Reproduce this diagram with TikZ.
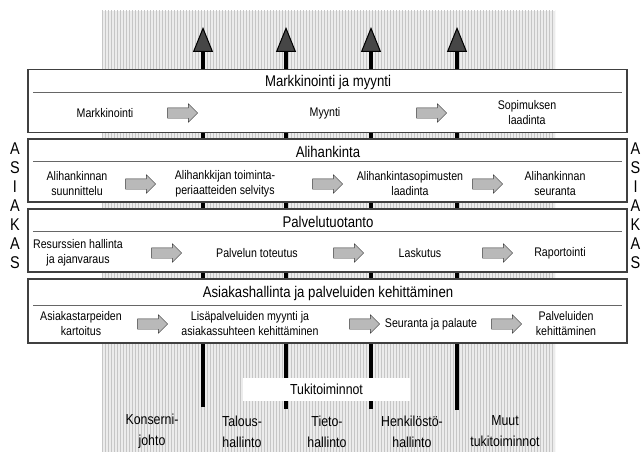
\documentclass[tikz,border=0pt]{standalone}
\usepackage{fontspec}
\setmainfont[FakeStretch=0.85]{Liberation Sans}
\usepackage{tikz}
\usetikzlibrary{arrows.meta,shapes.arrows,patterns}
\tikzset{
  box/.style ={draw=black!75,line width=1.1pt,fill=white,minimum width=599pt,minimum height=63pt,inner sep=0pt},
  ttl/.style ={inner sep=0pt,font=\fontsize{15.5}{18}\selectfont},
  itm/.style ={inner sep=0pt,align=center,font=\fontsize{12.5}{15}\selectfont},
  bot/.style ={inner sep=0pt,align=center,font=\fontsize{14.5}{21}\selectfont},
  ltr/.style ={inner sep=0pt,font=\fontsize{17}{19}\selectfont},
  tuki/.style={fill=white,minimum width=167pt,minimum height=23pt,inner sep=0pt,font=\fontsize{14.5}{17}\selectfont},
  blk/.style ={single arrow,draw=black!80,fill=gray!55,minimum height=30pt,inner xsep=0pt,inner ysep=5pt,
               single arrow head extend=4pt},
  rule/.style={draw=black!60,line width=0.9pt},
  up/.style  ={line width=4pt,-{Triangle[length=25pt,width=20pt,line width=1pt,fill=gray!55!black]}},
}

\begin{document}
\begin{tikzpicture}[x=1pt,y=-1pt]
  \useasboundingbox (0,0) rectangle (642,452);
  % gray band
  \fill[gray!15] (102,11) rectangle (555,452);
  \fill[pattern=vertical lines,pattern color=gray!45] (102,11) rectangle (555,452);

  % the four arrows up
  \coordinate (t1) at (203,27);  \coordinate (s1) at (203,407);
  \coordinate (t2) at (286,27);  \coordinate (s2) at (286,409);
  \coordinate (t3) at (371,27);  \coordinate (s3) at (371,409);
  \coordinate (t4) at (457,27);  \coordinate (s4) at (457,410);
  \draw[up] (s1) -- (t1);
  \draw[up] (s2) -- (t2);
  \draw[up] (s3) -- (t3);
  \draw[up] (s4) -- (t4);

  % boxes
  \node[box] (mm) at (327.5,101) {};
  \node[box] (ah) at (327.5,170.5) {};
  \node[box] (pt) at (327.5,240.5) {};
  \node[box,minimum height=64pt] (ak) at (327.5,311) {};
  \foreach \b in {mm,ah,pt}
    \draw[rule] ([xshift=6pt,yshift=-23pt]\b.north west) -- ([xshift=-6pt,yshift=-23pt]\b.north east);
  \draw[rule] ([xshift=6pt,yshift=-27pt]ak.north west) -- ([xshift=-6pt,yshift=-27pt]ak.north east);

  % Markkinointi ja myynti
  \node[ttl] (mm0) at (328,82) {Markkinointi ja myynti};
  \node[itm] (mm1) at (105,113) {Markkinointi};
  \node[blk] (mma) at (180,113) {};
  \node[itm] (mm2) at (325,113) {Myynti};
  \node[blk] (mmb) at (429,113) {};
  \node[itm] (mm3) at (527,113) {Sopimuksen\\laadinta};

  % Alihankinta
  \node[ttl] (ah0) at (328,152) {Alihankinta};
  \node[itm] (ah1) at (77,184) {Alihankinnan\\suunnittelu};
  \node[blk] (aha) at (138,184) {};
  \node[itm] (ah2) at (225,184) {Alihankkijan toiminta-\\periaatteiden selvitys};
  \node[blk] (ahb) at (325,184) {};
  \node[itm] (ah3) at (410,184) {Alihankintasopimusten\\laadinta};
  \node[blk] (ahc) at (485,184) {};
  \node[itm] (ah4) at (555,184) {Alihankinnan\\seuranta};

  % Palvelutuotanto
  \node[ttl] (pt0) at (328,222) {Palvelutuotanto};
  \node[itm] (pt1) at (78,253) {Resurssien hallinta\\ja ajanvaraus};
  \node[blk] (pta) at (164,253) {};
  \node[itm] (pt2) at (257,253) {Palvelun toteutus};
  \node[blk] (ptb) at (346,253) {};
  \node[itm] (pt3) at (420,253) {Laskutus};
  \node[blk] (ptc) at (495,253) {};
  \node[itm] (pt4) at (560,253) {Raportointi};

  % Asiakashallinta
  \node[ttl] (ak0) at (328,293) {Asiakashallinta ja palveluiden kehittäminen};
  \node[itm] (ak1) at (81,324) {Asiakastarpeiden\\kartoitus};
  \node[blk] (aka) at (150,324) {};
  \node[itm] (ak2) at (250,324) {Lisäpalveluiden myynti ja\\asiakassuhteen kehittäminen};
  \node[blk] (akb) at (362,324) {};
  \node[itm] (ak3) at (431,324) {Seuranta ja palaute};
  \node[blk] (akc) at (504,324) {};
  \node[itm] (ak4) at (566,324) {Palveluiden\\kehittäminen};

  % Tukitoiminnot
  \node[tuki] (tk) at (326.5,389.5) {Tukitoiminnot};
  \node[bot] (tk1) at (152,431.5) {Konserni-\\johto};
  \node[bot] (tk2) at (242,431.5) {Talous-\\hallinto};
  \node[bot] (tk3) at (327,431.5) {Tieto-\\hallinto};
  \node[bot] (tk4) at (412,431.5) {Henkilöstö-\\hallinto};
  \node[bot] (tk5) at (505,431.5) {Muut\\tukitoiminnot};

  % ASIAKAS
  \foreach \c [count=\i] in {A,S,I,A,K,A,S}{
    \node[ltr] (la\i) at (15,130+19*\i) {\c};
    \node[ltr] (ra\i) at (635.5,130+19*\i) {\c};
  }
\end{tikzpicture}
\end{document}
